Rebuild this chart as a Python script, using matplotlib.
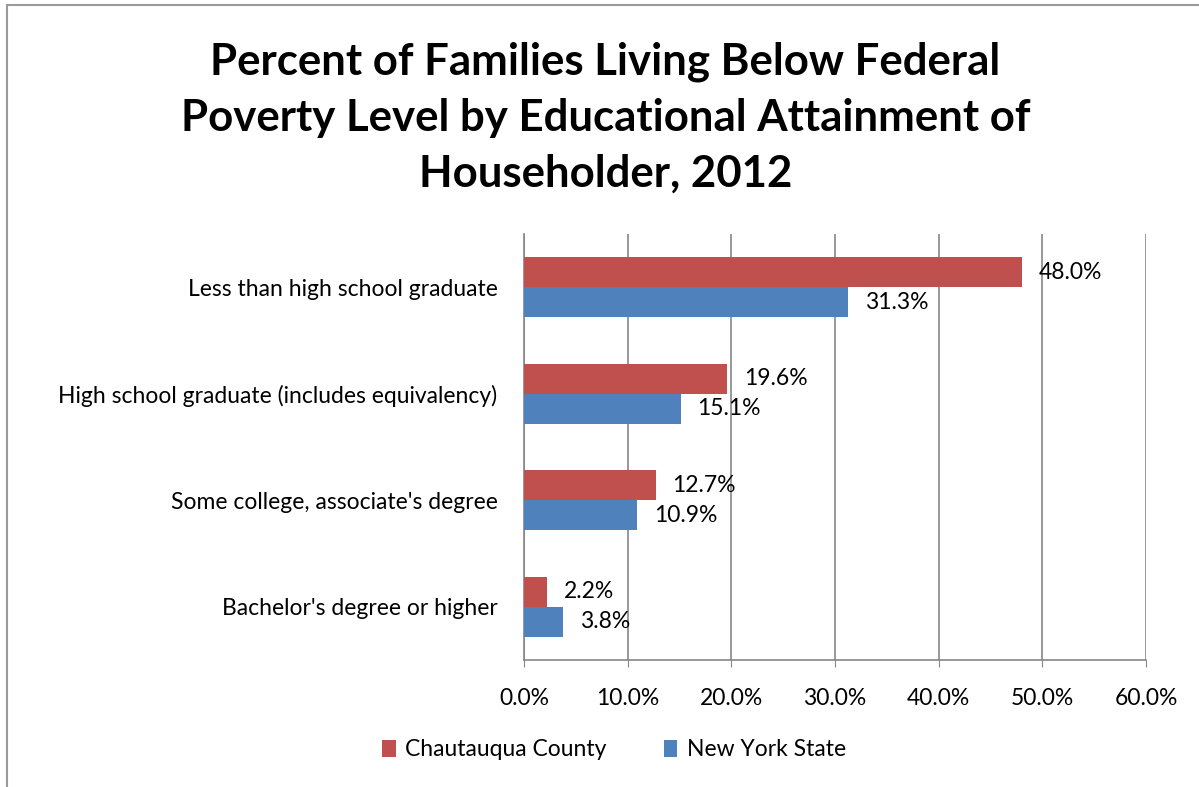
import numpy as np
import matplotlib
matplotlib.use("Agg")
import matplotlib.pyplot as plt
from matplotlib.patches import Rectangle

# data
categories = ["Less than high school graduate",
              "High school graduate (includes equivalency)",
              "Some college, associate's degree",
              "Bachelor's degree or higher"]
chautauqua = [48.0, 19.6, 12.7, 2.2]
new_york = [31.3, 15.1, 10.9, 3.8]
series_names = ["Chautauqua County", "New York State"]
x_ticks = [0, 10, 20, 30, 40, 50, 60]

plt.rcParams["font.family"] = ["Lato", "DejaVu Sans"]

W, H = 1199, 787
fs = 16.5
fig = plt.figure(figsize=(W / 100, H / 100), dpi=100)

# chart-area border (clipped at right and bottom like the source screenshot)
fig.patches.append(Rectangle((7 / W, -0.1), 1.2, 1 - 5 / H + 0.1,
                             transform=fig.transFigure, fill=False,
                             edgecolor="#9a9a9a", linewidth=1.5))

ax = fig.add_axes([524 / W, 1 - 660 / H, (1146 - 524) / W, (660 - 234) / H])

y = np.arange(len(categories))
h = 0.28
red = "#C0504D"
blue = "#4F81BD"
ax.barh(y - h / 2, chautauqua, height=h, color=red, label=series_names[0], zorder=3)
ax.barh(y + h / 2, new_york, height=h, color=blue, label=series_names[1], zorder=3)

for yi, v in zip(y, chautauqua):
    ax.annotate(f"{v:.1f}%", (v, yi - h / 2), xytext=(12, 0), textcoords="offset points",
                va="center", ha="left", fontsize=fs, zorder=4)
for yi, v in zip(y, new_york):
    ax.annotate(f"{v:.1f}%", (v, yi + h / 2), xytext=(12, 0), textcoords="offset points",
                va="center", ha="left", fontsize=fs, zorder=4)

ax.set_xlim(0, 60)
ax.set_ylim(len(categories) - 0.5, -0.5)
ax.set_xticks(x_ticks)
ax.set_xticklabels([f"{t:.1f}%" for t in x_ticks], fontsize=fs)
ax.set_yticks(y)
ax.set_yticklabels(categories, fontsize=fs)
ax.tick_params(axis="y", length=0, pad=19)
ax.tick_params(axis="x", length=5, color="#868686", pad=15)
ax.grid(axis="x", color="#868686", linewidth=1.2, zorder=0)
for s in ["top", "right"]:
    ax.spines[s].set_visible(False)
for s in ["left", "bottom"]:
    ax.spines[s].set_color("#868686")
    ax.spines[s].set_linewidth(1.2)

fig.text(0.505, 1 - 118 / H,
         "Percent of Families Living Below Federal\nPoverty Level by Educational Attainment of\nHouseholder, 2012",
         ha="center", va="center", fontsize=31.5, fontweight="bold", linespacing=1.48)

fig.legend(loc="center", bbox_to_anchor=(0.512, 1 - 750 / H), ncol=2, frameon=False,
           fontsize=fs, handlelength=0.6, handleheight=0.7, handletextpad=0.4,
           columnspacing=2.5)

fig.savefig("out.png", dpi=100)
